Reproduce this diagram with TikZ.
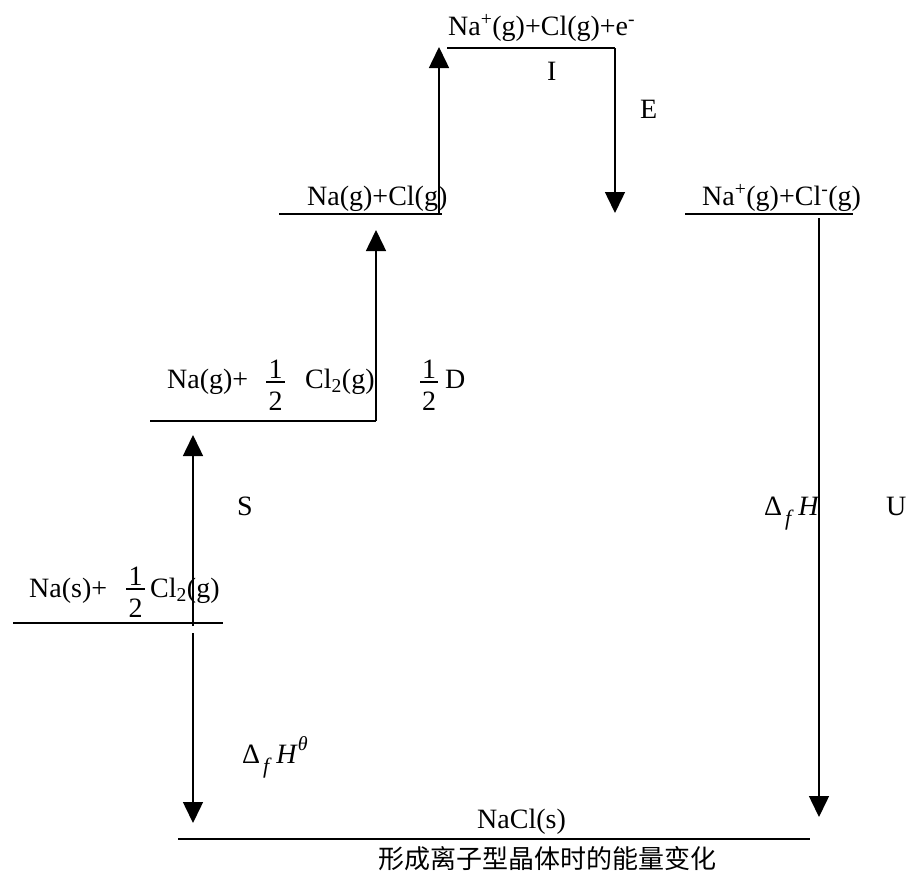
\documentclass[tikz,border=0pt]{standalone}
\usepackage{fontspec}
\setmainfont{Liberation Serif}
\newfontfamily\cjk{Noto Sans CJK SC}
\usetikzlibrary{arrows.meta}
\tikzset{
  level/.style={line width=1.6pt},
  conn/.style={line width=1.5pt,-{Triangle[width=20pt,length=21pt]}},
  lbl/.style={anchor=base west,inner sep=0pt,font=\fontsize{28}{32}\selectfont},
  num/.style={anchor=base,inner sep=0pt,font=\fontsize{28}{32}\selectfont},
  fbar/.style={line width=1.2pt}
}
\newcommand{\subf}{\kern3pt\raisebox{-10pt}{\fontsize{22}{24}\selectfont\itshape f}\kern7pt}
\begin{document}
\begin{tikzpicture}[x=1pt,y=-1pt]
\useasboundingbox (0,0) rectangle (906,873);

% energy levels
\coordinate (top-l) at (447,48);   \coordinate (top-r) at (615,48);
\coordinate (atom-l) at (279,214); \coordinate (atom-r) at (442,214);
\coordinate (ion-l) at (685,214);  \coordinate (ion-r) at (853,214);
\coordinate (half-l) at (150,421); \coordinate (half-r) at (376,421);
\coordinate (std-l) at (13,623);   \coordinate (std-r) at (223,623);
\coordinate (salt-l) at (178,839); \coordinate (salt-r) at (810,839);
\draw[level] (top-l) -- (top-r);
\draw[level] (atom-l) -- (atom-r);
\draw[level] (ion-l) -- (ion-r);
\draw[level] (half-l) -- (half-r);
\draw[level] (std-l) -- (std-r);
\draw[level] (salt-l) -- (salt-r);

% arrow end points
\coordinate (s-from) at (193,626);  \coordinate (s-to) at (193,435);
\coordinate (h-from) at (193,633);  \coordinate (h-to) at (193,823);
\coordinate (d-to) at (376,230);
\coordinate (i-from) at (439,214);  \coordinate (i-to) at (439,47);
\coordinate (e-to) at (615,213);
\coordinate (u-from) at (819,218);  \coordinate (u-to) at (819,817);

% steps of the cycle
\draw[conn] (s-from) -- (s-to);
\draw[conn] (h-from) -- (h-to);
\draw[conn] (half-r) -- (d-to);
\draw[conn] (i-from) -- (i-to);
\draw[conn] (top-r) -- (e-to);
\draw[conn] (u-from) -- (u-to);

% species
\node[lbl] (t-top) at (448,35) {Na\textsuperscript{+}(g)+Cl(g)+e\textsuperscript{-}};
\node[lbl] (t-atom) at (307,205) {Na(g)+Cl(g)};
\node[lbl] (t-ion) at (702,205) {Na\textsuperscript{+}(g)+Cl\textsuperscript{-}(g)};
\node[lbl] (t-half) at (167,388) {Na(g)+};
\node[num] (f1-n) at (275.5,378) {1};
\draw[fbar] (266,382) -- (285,382);
\node[num] (f1-d) at (275.5,410) {2};
\node[lbl] (t-half2) at (305,388) {Cl\textsubscript{2}(g)};
\node[lbl] (t-std) at (29,597) {Na(s)+};
\node[num] (f2-n) at (135.5,585) {1};
\draw[fbar] (126,589) -- (145,589);
\node[num] (f2-d) at (135.5,617) {2};
\node[lbl] (t-std2) at (150,597) {Cl\textsubscript{2}(g)};
\node[lbl] (t-salt) at (477,828) {NaCl(s)};

% step labels
\node[lbl] (l-i) at (547,80) {I};
\node[lbl] (l-e) at (640,118) {E};
\node[num] (f3-n) at (429,378) {1};
\draw[fbar] (420,382) -- (438,382);
\node[num] (f3-d) at (429,410) {2};
\node[lbl] (l-d) at (445,388) {D};
\node[lbl] (l-s) at (237,515) {S};
\node[lbl] (l-u) at (886,515) {U};
\node[lbl] (l-hf) at (242,763) {Δ\subf\textit{H}\raisebox{13pt}{\fontsize{20}{22}\selectfont\itshape θ}};
\node[lbl] (l-hu) at (764,515) {Δ\subf\textit{H}};

% caption
\node[anchor=north west,inner sep=0pt,font=\cjk\fontsize{26}{28}\selectfont] (cap) at (378,846) {形成离子型晶体时的能量变化};
\end{tikzpicture}
\end{document}
